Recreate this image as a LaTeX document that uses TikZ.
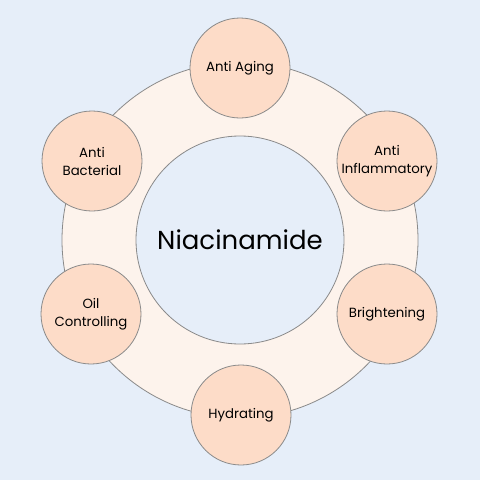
\documentclass[tikz,border=0pt]{standalone}
\usepackage{fontspec}
\setmainfont{Poppins}
\usepackage{xcolor}
\usetikzlibrary{positioning}

\definecolor{bgblue}{HTML}{E6EEF9}
\definecolor{ringfill}{HTML}{FDF3EC}
\definecolor{petal}{HTML}{FDDCC8}
\definecolor{edge}{HTML}{8A8A8A}

\begin{document}
\begin{tikzpicture}[
  x=1pt, y=-1pt,
  every node/.style={font=\fontsize{13.3}{18}\selectfont, text=black},
  disc/.style={circle, draw=edge, line width=0.8pt, fill=#1, inner sep=0pt},
  benefit/.style={disc=petal, minimum size=100pt, align=center},
]
\fill[bgblue] (0,0) rectangle (480,480);
\useasboundingbox (0,0) rectangle (480,480);
% ring and hub
\node[disc=ringfill, minimum size=356pt] (ring) at (240,240) {};
\node[disc=bgblue, minimum size=208pt,
      font=\fontsize{26}{32}\selectfont] (hub) at (240,240) {Niacinamide};
% benefits round the ring
\node[benefit] (aging)   at (240,68)  {Anti Aging};
\node[benefit] (inflam)  at (387,161) {Anti\\Inflammatory};
\node[benefit] (bright)  at (387,314) {Brightening};
\node[benefit] (hydra)   at (241,415) {Hydrating};
\node[benefit] (oil)     at (91,314)  {Oil\\Controlling};
\node[benefit] (bacter)  at (92,161)  {Anti\\Bacterial};
\end{tikzpicture}
\end{document}
